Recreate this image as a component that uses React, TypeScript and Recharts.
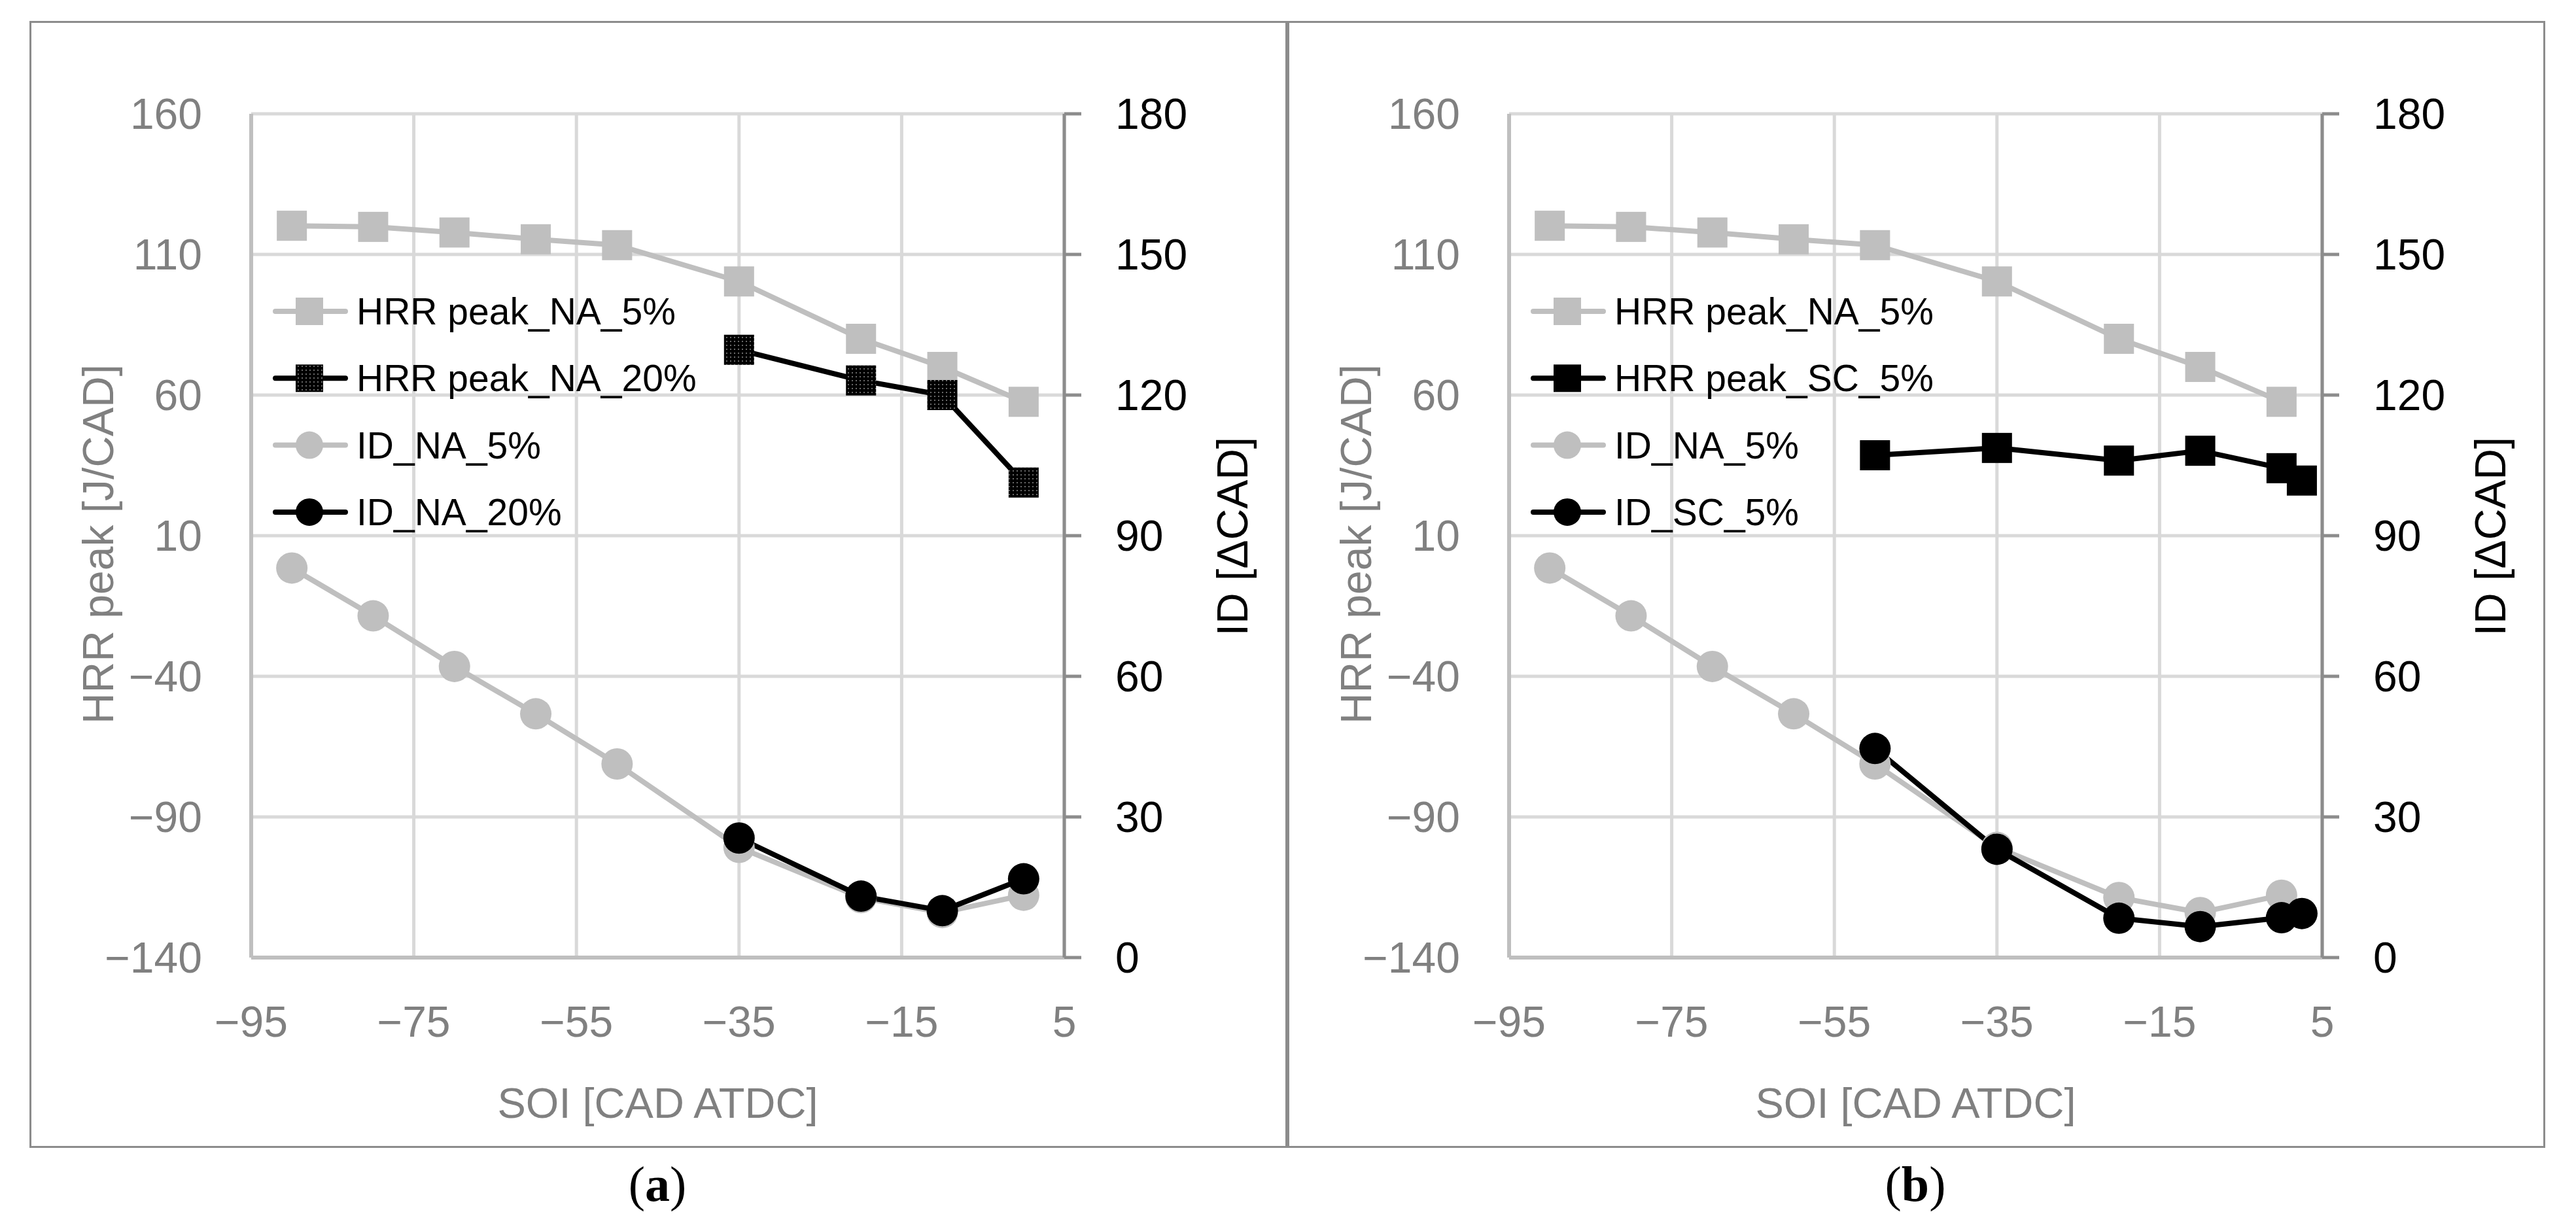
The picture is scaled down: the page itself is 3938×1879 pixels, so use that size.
import React from 'react'
import {
  LineChart,
  Line,
  XAxis,
  YAxis,
  CartesianGrid,
  Legend,
} from 'recharts'

// SOI positions [CAD ATDC]
const SOI_NA5 = [-90, -80, -70, -60, -50, -35, -20, -10, 0]
const SOI_NA20 = [-35, -20, -10, 0]
const SOI_SC5 = [-50, -35, -20, -10, 0, 2.5]

// HRR peak [J/CAD]
const HRR_NA5 = [120.2, 119.8, 117.8, 115.4, 113.3, 100.4, 80.0, 70.0, 57.6]
const HRR_NA20 = [76.1, 65.2, 60.0, 28.9]
const HRR_SC5 = [38.6, 41.2, 36.7, 40.2, 34.0, 29.6]

// ID [ΔCAD]
const ID_NA5 = [83.1, 72.9, 62.1, 52.0, 41.3, 23.5, 12.8, 9.6, 13.3]
const ID_NA20 = [25.5, 13.1, 10.0, 16.8]
const ID_SC5 = [44.6, 23.1, 8.4, 6.6, 8.5, 9.4]

const SOI_TICKS = [-95, -75, -55, -35, -15, 5]
const HRR_TICKS = [-140, -90, -40, 10, 60, 110, 160]
const ID_TICKS = [0, 30, 60, 90, 120, 150, 180]

const FONT = '"Liberation Sans", Arial, sans-serif'
const GRAY = '#bfbfbf'
const TEXT_GRAY = '#808080'
const FRAME = '#8c8c8c'

const CHART_W = 1921
const CHART_H = 1722

type Shape = 'square' | 'circle'

interface Series {
  name: string
  x: number[]
  y: number[]
  axis: 'hrr' | 'id'
  color: string
  fill: string
  shape: Shape
}

const fmt = (v: number) => (v < 0 ? '\u2212' + Math.abs(v) : String(v))

function seriesFor(panel: 'a' | 'b'): Series[] {
  const pat = `url(#dots-${panel})`
  if (panel === 'a') {
    return [
      { name: 'HRR peak_NA_5%', x: SOI_NA5, y: HRR_NA5, axis: 'hrr', color: GRAY, fill: GRAY, shape: 'square' },
      { name: 'HRR peak_NA_20%', x: SOI_NA20, y: HRR_NA20, axis: 'hrr', color: '#000', fill: pat, shape: 'square' },
      { name: 'ID_NA_5%', x: SOI_NA5, y: ID_NA5, axis: 'id', color: GRAY, fill: GRAY, shape: 'circle' },
      { name: 'ID_NA_20%', x: SOI_NA20, y: ID_NA20, axis: 'id', color: '#000', fill: '#000', shape: 'circle' },
    ]
  }
  return [
    { name: 'HRR peak_NA_5%', x: SOI_NA5, y: HRR_NA5, axis: 'hrr', color: GRAY, fill: GRAY, shape: 'square' },
    { name: 'HRR peak_SC_5%', x: SOI_SC5, y: HRR_SC5, axis: 'hrr', color: '#000', fill: '#000', shape: 'square' },
    { name: 'ID_NA_5%', x: SOI_NA5, y: ID_NA5, axis: 'id', color: GRAY, fill: GRAY, shape: 'circle' },
    { name: 'ID_SC_5%', x: SOI_SC5, y: ID_SC5, axis: 'id', color: '#000', fill: '#000', shape: 'circle' },
  ]
}

function marker(shape: Shape, cx: number, cy: number, size: number, fill: string, key?: string) {
  if (shape === 'square') {
    return <rect key={key} x={cx - size / 2} y={cy - size / 2} width={size} height={size} fill={fill} />
  }
  return <circle key={key} cx={cx} cy={cy} r={size / 2} fill={fill} />
}

function Panel({ panel, left }: { panel: 'a' | 'b'; left: number }) {
  const series = seriesFor(panel)

  const legendContent = () => (
    <svg width={800} height={410} style={{ display: 'block', overflow: 'visible' }}>
      {series.map((s, i) => {
        const cy = 51 + i * 102.3
        return (
          <g key={s.name}>
            <line x1={4} x2={111} y1={cy} y2={cy} stroke={s.color} strokeWidth={8} strokeLinecap="round" />
            {marker(s.shape, 56, cy, 42, s.fill)}
            <text x={128} y={cy + 20} fontSize={57} fill="#000" fontFamily={FONT}>
              {s.name}
            </text>
          </g>
        )
      })}
    </svg>
  )

  return (
    <>
      <div
        style={{
          position: 'absolute',
          left: left - 1,
          top: 32,
          width: 1923,
          height: 1723,
          border: `3px solid ${FRAME}`,
          boxSizing: 'border-box',
        }}
      />
      <div style={{ position: 'absolute', left, top: 33 }}>
        <LineChart
          width={CHART_W}
          height={CHART_H}
          margin={{ top: 141, right: 0, bottom: 0, left: 0 }}
          style={{ fontFamily: FONT }}
        >
          <defs>
            <pattern id={`dots-${panel}`} width={6} height={6} patternUnits="userSpaceOnUse">
              <rect width={6} height={6} fill="#000" />
              <rect x={2} y={2} width={2} height={2} fill="#6a6a6a" />
            </pattern>
          </defs>
          <CartesianGrid yAxisId="hrr" stroke="#d9d9d9" strokeWidth={5} />
          <XAxis
            type="number"
            dataKey="x"
            domain={[-95, 5]}
            ticks={SOI_TICKS}
            allowDataOverflow
            height={291}
            tickSize={0}
            tickMargin={74}
            axisLine={{ stroke: GRAY, strokeWidth: 6 }}
            tickLine={false}
            tick={{ fill: TEXT_GRAY, fontSize: 66, fontFamily: FONT }}
            tickFormatter={fmt}
            label={{
              content: (p: any) => {
                const vb = p.viewBox
                return (
                  <text
                    x={vb.x + vb.width / 2}
                    y={vb.y + 245}
                    textAnchor="middle"
                    fontSize={65}
                    fill={TEXT_GRAY}
                    fontFamily={FONT}
                  >
                    SOI [CAD ATDC]
                  </text>
                )
              },
            }}
          />
          <YAxis
            yAxisId="hrr"
            type="number"
            domain={[-140, 160]}
            ticks={HRR_TICKS}
            allowDataOverflow
            width={338}
            tickSize={0}
            tickMargin={75}
            axisLine={{ stroke: GRAY, strokeWidth: 6 }}
            tickLine={false}
            tick={{ fill: TEXT_GRAY, fontSize: 66, fontFamily: FONT }}
            tickFormatter={fmt}
            label={{
              content: (p: any) => {
                const vb = p.viewBox
                const bx = vb.x + 127
                const cy = vb.y + vb.height / 2 + 13
                return (
                  <text
                    x={bx}
                    y={cy}
                    transform={`rotate(-90, ${bx}, ${cy})`}
                    textAnchor="middle"
                    fontSize={66}
                    fill={TEXT_GRAY}
                    fontFamily={FONT}
                  >
                    HRR peak [J/CAD]
                  </text>
                )
              },
            }}
          />
          <YAxis
            yAxisId="id"
            orientation="right"
            type="number"
            domain={[0, 180]}
            ticks={ID_TICKS}
            allowDataOverflow
            width={340}
            tickSize={26}
            tickMargin={52}
            axisLine={{ stroke: FRAME, strokeWidth: 5 }}
            tickLine={{ stroke: FRAME, strokeWidth: 5 }}
            tick={{ fill: '#000', fontSize: 66, fontFamily: FONT }}
            label={{
              content: (p: any) => {
                const vb = p.viewBox
                const bx = vb.x + 280
                const cy = vb.y + vb.height / 2 + 1
                return (
                  <text
                    x={bx}
                    y={cy}
                    transform={`rotate(-90, ${bx}, ${cy})`}
                    textAnchor="middle"
                    fontSize={66}
                    fill="#000"
                    fontFamily={FONT}
                  >
                    ID [ΔCAD]
                  </text>
                )
              },
            }}
          />
          <Legend
            layout="vertical"
            align="center"
            verticalAlign="middle"
            wrapperStyle={{ left: 371, top: 392, width: 800, height: 410 }}
            content={legendContent}
          />
          {series.map((s) => (
            <Line
              key={s.name}
              name={s.name}
              yAxisId={s.axis}
              data={s.x.map((x, i) => ({ x, y: s.y[i] }))}
              dataKey="y"
              type="linear"
              stroke={s.color}
              strokeWidth={8}
              strokeLinejoin="round"
              isAnimationActive={false}
              dot={(d: any) => marker(s.shape, d.cx, d.cy, s.shape === 'square' ? 46 : 48, s.fill, `${s.name}-${d.index}`)}
              activeDot={false}
            />
          ))}
        </LineChart>
      </div>
      <div
        style={{
          position: 'absolute',
          left: left + 959 - 150,
          top: 1772,
          width: 300,
          textAlign: 'center',
          fontFamily: '"Liberation Serif", "Times New Roman", serif',
          fontSize: 76,
          lineHeight: '76px',
          color: '#000',
        }}
      >
        (<b>{panel}</b>)
      </div>
    </>
  )
}

export default function App() {
  return (
    <div
      style={{
        position: 'absolute',
        left: 0,
        top: 0,
        width: 3938,
        height: 1879,
        background: '#fff',
        overflow: 'hidden',
      }}
    >
      <Panel panel="a" left={46} />
      <Panel panel="b" left={1969} />
    </div>
  )
}
